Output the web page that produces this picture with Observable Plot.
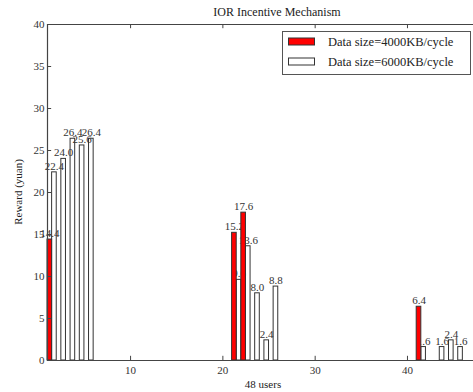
<!DOCTYPE html>
<html>
<head>
<meta charset="utf-8">
<script src="https://cdn.jsdelivr.net/npm/d3@7"></script>
<script src="https://cdn.jsdelivr.net/npm/@observablehq/plot@0.6"></script>
<style>
  html, body { margin: 0; padding: 0; background: #fff; }
  #chart svg { display: block; }
</style>
</head>
<body>
<div id="chart"></div>
<script>
// ---- data ----
const chartTitle = "IOR Incentive Mechanism";
const xLabel = "48 users";
const yLabel = "Reward (yuan)";
const seriesNames = ["Data size=4000KB/cycle", "Data size=6000KB/cycle"];
const redUsers = [1, 21, 22, 41];
const redValues = [14.4, 15.2, 17.6, 6.4];
const whiteUsers = [1, 2, 3, 4, 5, 21, 22, 23, 24, 25, 41, 43, 44, 45];
const whiteValues = [22.4, 24.0, 26.4, 25.6, 26.4, 9.6, 13.6, 8.0, 2.4, 8.8, 1.6, 1.6, 2.4, 1.6];
const xTicks = [10, 20, 30, 40];
const yTicks = [0, 5, 10, 15, 20, 25, 30, 35, 40];

// ---- build tables ----
const barW = 0.5;
const red = redUsers.map((u, i) => ({u, v: redValues[i], x1: u, x2: u + barW}));
const white = whiteUsers.map((u, i) => ({u, v: whiteValues[i], x1: u + barW, x2: u + 2 * barW}));
const labels = [...red, ...white];

const FONT = "'Liberation Serif', 'Times New Roman', serif";
const W = 473, H = 392;
const ML = 47, MR = 0, MT = 24, MB = 32;
const xMax = 1 + (W - ML - MR) / 9.23;
const axisColor = "#444";

const plot = Plot.plot({
  width: W,
  height: H,
  marginLeft: ML,
  marginRight: MR,
  marginTop: MT,
  marginBottom: MB,
  style: {fontFamily: FONT, background: "white", overflow: "visible"},
  x: {domain: [1, xMax], label: null},
  y: {domain: [0, 40], label: null},
  marks: [
    // value labels (drawn under bars, as in the reference)
    Plot.text(labels, {
      x: d => (d.x1 + d.x2) / 2,
      y: "v",
      text: d => d.v.toFixed(1),
      dy: -6,
      fontSize: 11,
      fill: "#333",
      fontFamily: FONT
    }),
    // 6000KB bars (outlined)
    Plot.rect(white, {x1: "x1", x2: "x2", y1: 0, y2: "v", fill: "none", stroke: "#333", strokeWidth: 1}),
    // 4000KB bars (red)
    Plot.rect(red, {x1: "x1", x2: "x2", y1: 0, y2: "v", fill: "#ff0000", stroke: "#333", strokeWidth: 1}),
    // frame lines (right side runs off the picture)
    Plot.ruleY([0, 40], {stroke: axisColor, strokeWidth: 1.2}),
    Plot.ruleX([1], {stroke: axisColor, strokeWidth: 1.2}),
    // inward tick marks
    Plot.ruleX(xTicks, {y1: 0, y2: 0.5, stroke: axisColor}),
    Plot.ruleX(xTicks, {y1: 39.5, y2: 40, stroke: axisColor}),
    Plot.ruleY(yTicks, {x1: 1, x2: 1.45, stroke: axisColor}),
    // tick labels
    Plot.axisX({ticks: xTicks, tickSize: 0, tickPadding: 6, fontSize: 11, label: null, fill: "#333"}),
    Plot.axisY({ticks: yTicks, tickSize: 0, tickPadding: 3, fontSize: 11, label: null, fill: "#333"})
  ]
});

document.getElementById("chart").appendChild(plot);

// ---- titles and legend ----
const svg = d3.select(plot);
svg.append("text")
  .attr("x", 277).attr("y", 16)
  .attr("text-anchor", "middle")
  .attr("font-family", FONT).attr("font-size", 12).attr("fill", "#222")
  .text(chartTitle);
svg.append("text")
  .attr("x", 263).attr("y", 388)
  .attr("text-anchor", "middle")
  .attr("font-family", FONT).attr("font-size", 11).attr("fill", "#222")
  .text(xLabel);
svg.append("text")
  .attr("transform", "translate(22,192) rotate(-90)")
  .attr("text-anchor", "middle")
  .attr("font-family", FONT).attr("font-size", 11).attr("fill", "#222")
  .text(yLabel);

const lg = svg.append("g");
lg.append("rect").attr("x", 282.5).attr("y", 31.5).attr("width", 188).attr("height", 43)
  .attr("fill", "white").attr("stroke", "#555").attr("stroke-width", 1);
const swatches = ["#ff0000", "white"];
seriesNames.forEach((name, i) => {
  const cy = 41.5 + i * 20;
  lg.append("rect").attr("x", 288.5).attr("y", cy - 3.5).attr("width", 26).attr("height", 7)
    .attr("fill", swatches[i]).attr("stroke", "#333").attr("stroke-width", 1);
  lg.append("text").attr("x", 328).attr("y", cy + 4)
    .attr("text-anchor", "start")
    .attr("font-family", FONT).attr("font-size", 12.5).attr("fill", "#222")
    .text(name);
});
</script>
</body>
</html>
